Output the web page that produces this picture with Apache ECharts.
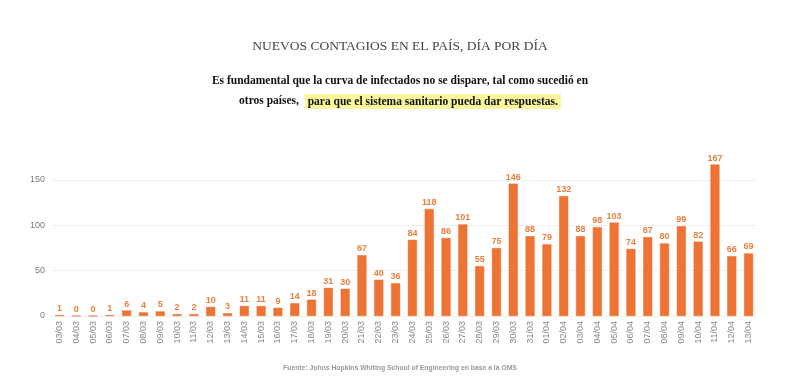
<!DOCTYPE html>
<html><head><meta charset="utf-8">
<script src="https://cdn.jsdelivr.net/npm/echarts@6/dist/echarts.min.js"></script>
<style>html,body{margin:0;padding:0;background:#fff}#c{width:800px;height:380px}</style>
</head><body><div id="c"></div>
<script>
const categories = ["03/03","04/03","05/03","06/03","07/03","08/03","09/03","10/03","11/03","12/03","13/03","14/03","15/03","16/03","17/03","18/03","19/03","20/03","21/03","22/03","23/03","24/03","25/03","26/03","27/03","28/03","29/03","30/03","31/03","01/04","02/04","03/04","04/04","05/04","06/04","07/04","08/04","09/04","10/04","11/04","12/04","13/04"];
const newCases = [1,0,0,1,6,4,5,2,2,10,3,11,11,9,14,18,31,30,67,40,36,84,118,86,101,55,75,146,88,79,132,88,98,103,74,87,80,99,82,167,66,69];
const yTicks = [0,50,100,150];
const titleText = "NUEVOS CONTAGIOS EN EL PAÍS, DÍA POR DÍA";
const subLine1 = "Es fundamental que la curva de infectados no se dispare, tal como sucedió en";
const subLine2a = "otros países,  ";
const subLine2b = "para que el sistema sanitario pueda dar respuestas.";
const sourceLabel = "Fuente:";
const sourceText = " Johns Hopkins Whiting School of Engineering en base a la OMS";

const chart = echarts.init(document.getElementById('c'), null, {renderer:'canvas'});
chart.setOption({
  animation:false,
  backgroundColor:'#fff',
  title:[
    {text:titleText,left:'center',top:34,textStyle:{fontFamily:'Liberation Serif',fontWeight:'normal',fontSize:13.5,color:'#444'}},
    {text:subLine1,left:'center',top:70,textStyle:{fontFamily:'Liberation Serif',fontWeight:'bold',fontSize:11.5,color:'#111'}},
    {text:'{a|'+subLine2a+'}{h|'+subLine2b+'}',left:'center',top:89,textStyle:{rich:{
      a:{fontFamily:'Liberation Serif',fontWeight:'bold',fontSize:11.5,color:'#111'},
      h:{fontFamily:'Liberation Serif',fontWeight:'bold',fontSize:11.5,color:'#111',backgroundColor:'#fbf59b',padding:[2,3,1,3]}
    }}},
    {text:'{b|'+sourceLabel+'}{n|'+sourceText+'}',left:'center',top:360,textStyle:{rich:{
      b:{fontFamily:'Liberation Sans',fontWeight:'bold',fontSize:6.8,color:'#999'},
      n:{fontFamily:'Liberation Sans',fontSize:6.8,color:'#999'}
    }}}
  ],
  grid:{left:51,right:43,top:180,bottom:64},
  xAxis:{type:'category',data:categories,
    axisLine:{show:false},axisTick:{show:false},
    axisLabel:{rotate:90,interval:0,margin:5,fontSize:9,color:'#888',fontFamily:'Liberation Sans'}},
  yAxis:{type:'value',min:yTicks[0],max:yTicks[yTicks.length-1],interval:50,
    axisLine:{show:false},axisTick:{show:false},
    axisLabel:{margin:6,fontSize:9,color:'#777',fontFamily:'Liberation Sans'},
    splitLine:{lineStyle:{color:'#f0f0f0',width:1}}},
  series:[{type:'bar',data:newCases,barWidth:9,clip:false,
    itemStyle:{color:'#EE7434',borderColor:'#E8662A',borderWidth:0.5},
    label:{show:true,position:'top',distance:2,fontSize:9,fontWeight:'bold',color:'#E8803F',fontFamily:'Liberation Sans'}}]
});
</script></body></html>
